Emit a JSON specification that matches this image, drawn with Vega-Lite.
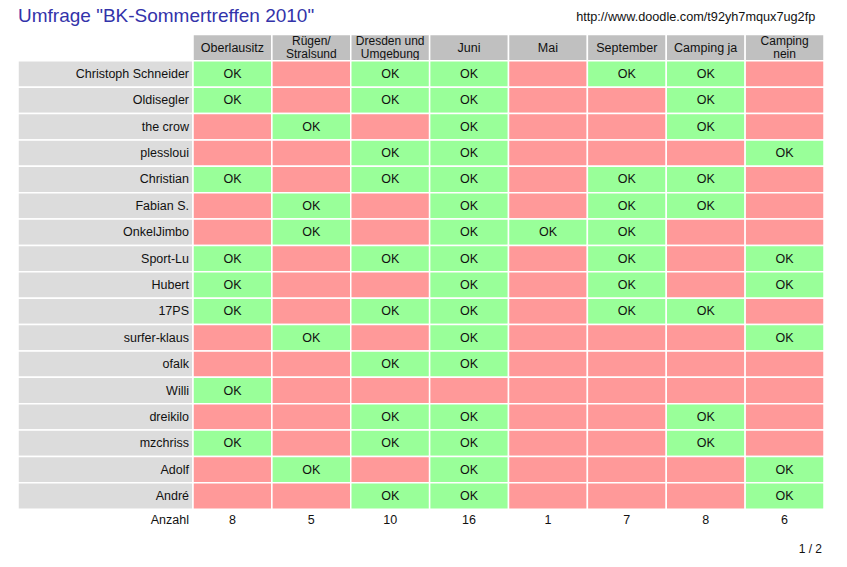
{
  "$schema": "https://vega.github.io/schema/vega-lite/v6.json",
  "padding": {"left": 17, "top": 7, "right": 0, "bottom": 0},
  "background": "white",
  "bounds": "flush",
  "spacing": 0,
  "config": {
    "view": {"stroke": null},
    "text": {"font": "Liberation Sans", "fontSize": 12.5, "color": "#111111"}
  },
  "datasets": {
    "names": [
      {"name": "Christoph Schneider"}, {"name": "Oldisegler"}, {"name": "the crow"}, {"name": "plessloui"},
      {"name": "Christian"}, {"name": "Fabian S."}, {"name": "OnkelJimbo"}, {"name": "Sport-Lu"},
      {"name": "Hubert"}, {"name": "17PS"}, {"name": "surfer-klaus"}, {"name": "ofalk"},
      {"name": "Willi"}, {"name": "dreikilo"}, {"name": "mzchriss"}, {"name": "Adolf"}, {"name": "André"}
    ],
    "options": [
      {"option": "Oberlausitz", "label": ["Oberlausitz"], "count": 8},
      {"option": "Rügen/Stralsund", "label": ["Rügen/", "Stralsund"], "count": 5},
      {"option": "Dresden und Umgebung", "label": ["Dresden und", "Umgebung"], "count": 10},
      {"option": "Juni", "label": ["Juni"], "count": 16},
      {"option": "Mai", "label": ["Mai"], "count": 1},
      {"option": "September", "label": ["September"], "count": 7},
      {"option": "Camping ja", "label": ["Camping ja"], "count": 8},
      {"option": "Camping nein", "label": ["Camping", "nein"], "count": 6}
    ],
    "votes": [
      {"name": "Christoph Schneider", "option": "Oberlausitz", "vote": "OK"},
      {"name": "Christoph Schneider", "option": "Rügen/Stralsund", "vote": ""},
      {"name": "Christoph Schneider", "option": "Dresden und Umgebung", "vote": "OK"},
      {"name": "Christoph Schneider", "option": "Juni", "vote": "OK"},
      {"name": "Christoph Schneider", "option": "Mai", "vote": ""},
      {"name": "Christoph Schneider", "option": "September", "vote": "OK"},
      {"name": "Christoph Schneider", "option": "Camping ja", "vote": "OK"},
      {"name": "Christoph Schneider", "option": "Camping nein", "vote": ""},
      {"name": "Oldisegler", "option": "Oberlausitz", "vote": "OK"},
      {"name": "Oldisegler", "option": "Rügen/Stralsund", "vote": ""},
      {"name": "Oldisegler", "option": "Dresden und Umgebung", "vote": "OK"},
      {"name": "Oldisegler", "option": "Juni", "vote": "OK"},
      {"name": "Oldisegler", "option": "Mai", "vote": ""},
      {"name": "Oldisegler", "option": "September", "vote": ""},
      {"name": "Oldisegler", "option": "Camping ja", "vote": "OK"},
      {"name": "Oldisegler", "option": "Camping nein", "vote": ""},
      {"name": "the crow", "option": "Oberlausitz", "vote": ""},
      {"name": "the crow", "option": "Rügen/Stralsund", "vote": "OK"},
      {"name": "the crow", "option": "Dresden und Umgebung", "vote": ""},
      {"name": "the crow", "option": "Juni", "vote": "OK"},
      {"name": "the crow", "option": "Mai", "vote": ""},
      {"name": "the crow", "option": "September", "vote": ""},
      {"name": "the crow", "option": "Camping ja", "vote": "OK"},
      {"name": "the crow", "option": "Camping nein", "vote": ""},
      {"name": "plessloui", "option": "Oberlausitz", "vote": ""},
      {"name": "plessloui", "option": "Rügen/Stralsund", "vote": ""},
      {"name": "plessloui", "option": "Dresden und Umgebung", "vote": "OK"},
      {"name": "plessloui", "option": "Juni", "vote": "OK"},
      {"name": "plessloui", "option": "Mai", "vote": ""},
      {"name": "plessloui", "option": "September", "vote": ""},
      {"name": "plessloui", "option": "Camping ja", "vote": ""},
      {"name": "plessloui", "option": "Camping nein", "vote": "OK"},
      {"name": "Christian", "option": "Oberlausitz", "vote": "OK"},
      {"name": "Christian", "option": "Rügen/Stralsund", "vote": ""},
      {"name": "Christian", "option": "Dresden und Umgebung", "vote": "OK"},
      {"name": "Christian", "option": "Juni", "vote": "OK"},
      {"name": "Christian", "option": "Mai", "vote": ""},
      {"name": "Christian", "option": "September", "vote": "OK"},
      {"name": "Christian", "option": "Camping ja", "vote": "OK"},
      {"name": "Christian", "option": "Camping nein", "vote": ""},
      {"name": "Fabian S.", "option": "Oberlausitz", "vote": ""},
      {"name": "Fabian S.", "option": "Rügen/Stralsund", "vote": "OK"},
      {"name": "Fabian S.", "option": "Dresden und Umgebung", "vote": ""},
      {"name": "Fabian S.", "option": "Juni", "vote": "OK"},
      {"name": "Fabian S.", "option": "Mai", "vote": ""},
      {"name": "Fabian S.", "option": "September", "vote": "OK"},
      {"name": "Fabian S.", "option": "Camping ja", "vote": "OK"},
      {"name": "Fabian S.", "option": "Camping nein", "vote": ""},
      {"name": "OnkelJimbo", "option": "Oberlausitz", "vote": ""},
      {"name": "OnkelJimbo", "option": "Rügen/Stralsund", "vote": "OK"},
      {"name": "OnkelJimbo", "option": "Dresden und Umgebung", "vote": ""},
      {"name": "OnkelJimbo", "option": "Juni", "vote": "OK"},
      {"name": "OnkelJimbo", "option": "Mai", "vote": "OK"},
      {"name": "OnkelJimbo", "option": "September", "vote": "OK"},
      {"name": "OnkelJimbo", "option": "Camping ja", "vote": ""},
      {"name": "OnkelJimbo", "option": "Camping nein", "vote": ""},
      {"name": "Sport-Lu", "option": "Oberlausitz", "vote": "OK"},
      {"name": "Sport-Lu", "option": "Rügen/Stralsund", "vote": ""},
      {"name": "Sport-Lu", "option": "Dresden und Umgebung", "vote": "OK"},
      {"name": "Sport-Lu", "option": "Juni", "vote": "OK"},
      {"name": "Sport-Lu", "option": "Mai", "vote": ""},
      {"name": "Sport-Lu", "option": "September", "vote": "OK"},
      {"name": "Sport-Lu", "option": "Camping ja", "vote": ""},
      {"name": "Sport-Lu", "option": "Camping nein", "vote": "OK"},
      {"name": "Hubert", "option": "Oberlausitz", "vote": "OK"},
      {"name": "Hubert", "option": "Rügen/Stralsund", "vote": ""},
      {"name": "Hubert", "option": "Dresden und Umgebung", "vote": ""},
      {"name": "Hubert", "option": "Juni", "vote": "OK"},
      {"name": "Hubert", "option": "Mai", "vote": ""},
      {"name": "Hubert", "option": "September", "vote": "OK"},
      {"name": "Hubert", "option": "Camping ja", "vote": ""},
      {"name": "Hubert", "option": "Camping nein", "vote": "OK"},
      {"name": "17PS", "option": "Oberlausitz", "vote": "OK"},
      {"name": "17PS", "option": "Rügen/Stralsund", "vote": ""},
      {"name": "17PS", "option": "Dresden und Umgebung", "vote": "OK"},
      {"name": "17PS", "option": "Juni", "vote": "OK"},
      {"name": "17PS", "option": "Mai", "vote": ""},
      {"name": "17PS", "option": "September", "vote": "OK"},
      {"name": "17PS", "option": "Camping ja", "vote": "OK"},
      {"name": "17PS", "option": "Camping nein", "vote": ""},
      {"name": "surfer-klaus", "option": "Oberlausitz", "vote": ""},
      {"name": "surfer-klaus", "option": "Rügen/Stralsund", "vote": "OK"},
      {"name": "surfer-klaus", "option": "Dresden und Umgebung", "vote": ""},
      {"name": "surfer-klaus", "option": "Juni", "vote": "OK"},
      {"name": "surfer-klaus", "option": "Mai", "vote": ""},
      {"name": "surfer-klaus", "option": "September", "vote": ""},
      {"name": "surfer-klaus", "option": "Camping ja", "vote": ""},
      {"name": "surfer-klaus", "option": "Camping nein", "vote": "OK"},
      {"name": "ofalk", "option": "Oberlausitz", "vote": ""},
      {"name": "ofalk", "option": "Rügen/Stralsund", "vote": ""},
      {"name": "ofalk", "option": "Dresden und Umgebung", "vote": "OK"},
      {"name": "ofalk", "option": "Juni", "vote": "OK"},
      {"name": "ofalk", "option": "Mai", "vote": ""},
      {"name": "ofalk", "option": "September", "vote": ""},
      {"name": "ofalk", "option": "Camping ja", "vote": ""},
      {"name": "ofalk", "option": "Camping nein", "vote": ""},
      {"name": "Willi", "option": "Oberlausitz", "vote": "OK"},
      {"name": "Willi", "option": "Rügen/Stralsund", "vote": ""},
      {"name": "Willi", "option": "Dresden und Umgebung", "vote": ""},
      {"name": "Willi", "option": "Juni", "vote": ""},
      {"name": "Willi", "option": "Mai", "vote": ""},
      {"name": "Willi", "option": "September", "vote": ""},
      {"name": "Willi", "option": "Camping ja", "vote": ""},
      {"name": "Willi", "option": "Camping nein", "vote": ""},
      {"name": "dreikilo", "option": "Oberlausitz", "vote": ""},
      {"name": "dreikilo", "option": "Rügen/Stralsund", "vote": ""},
      {"name": "dreikilo", "option": "Dresden und Umgebung", "vote": "OK"},
      {"name": "dreikilo", "option": "Juni", "vote": "OK"},
      {"name": "dreikilo", "option": "Mai", "vote": ""},
      {"name": "dreikilo", "option": "September", "vote": ""},
      {"name": "dreikilo", "option": "Camping ja", "vote": "OK"},
      {"name": "dreikilo", "option": "Camping nein", "vote": ""},
      {"name": "mzchriss", "option": "Oberlausitz", "vote": "OK"},
      {"name": "mzchriss", "option": "Rügen/Stralsund", "vote": ""},
      {"name": "mzchriss", "option": "Dresden und Umgebung", "vote": "OK"},
      {"name": "mzchriss", "option": "Juni", "vote": "OK"},
      {"name": "mzchriss", "option": "Mai", "vote": ""},
      {"name": "mzchriss", "option": "September", "vote": ""},
      {"name": "mzchriss", "option": "Camping ja", "vote": "OK"},
      {"name": "mzchriss", "option": "Camping nein", "vote": ""},
      {"name": "Adolf", "option": "Oberlausitz", "vote": ""},
      {"name": "Adolf", "option": "Rügen/Stralsund", "vote": "OK"},
      {"name": "Adolf", "option": "Dresden und Umgebung", "vote": ""},
      {"name": "Adolf", "option": "Juni", "vote": "OK"},
      {"name": "Adolf", "option": "Mai", "vote": ""},
      {"name": "Adolf", "option": "September", "vote": ""},
      {"name": "Adolf", "option": "Camping ja", "vote": ""},
      {"name": "Adolf", "option": "Camping nein", "vote": "OK"},
      {"name": "André", "option": "Oberlausitz", "vote": ""},
      {"name": "André", "option": "Rügen/Stralsund", "vote": ""},
      {"name": "André", "option": "Dresden und Umgebung", "vote": "OK"},
      {"name": "André", "option": "Juni", "vote": "OK"},
      {"name": "André", "option": "Mai", "vote": ""},
      {"name": "André", "option": "September", "vote": ""},
      {"name": "André", "option": "Camping ja", "vote": ""},
      {"name": "André", "option": "Camping nein", "vote": "OK"}
    ]
  },
  "hconcat": [
    {
      "width": 175,
      "height": 554,
      "layer": [
        {
          "data": {"name": "names"},
          "mark": {"type": "rect", "fill": "#dcdcdc", "stroke": "white", "strokeWidth": 1.5},
          "encoding": {
            "x": {"datum": "Name", "type": "nominal", "axis": null, "scale": {"domain": ["Name"], "paddingInner": 0, "paddingOuter": 0}},
            "y": {"field": "name", "type": "nominal", "axis": null, "scale": {"domain": ["_top", "_header", "Christoph Schneider", "Oldisegler", "the crow", "plessloui", "Christian", "Fabian S.", "OnkelJimbo", "Sport-Lu", "Hubert", "17PS", "surfer-klaus", "ofalk", "Willi", "dreikilo", "mzchriss", "Adolf", "André", "Anzahl", "_page"], "paddingInner": 0, "paddingOuter": 0}}
          }
        },
        {
          "data": {"name": "names"},
          "mark": {"type": "text", "align": "right", "baseline": "middle", "dx": -4},
          "encoding": {
            "x": {"datum": "Name", "type": "nominal", "bandPosition": 1},
            "y": {"field": "name", "type": "nominal"},
            "text": {"field": "name"}
          }
        },
        {
          "data": {"values": [{"label": "Anzahl"}]},
          "mark": {"type": "text", "align": "right", "baseline": "middle", "dx": -4, "dy": -2},
          "encoding": {
            "x": {"datum": "Name", "type": "nominal", "bandPosition": 1},
            "y": {"datum": "Anzahl", "type": "nominal"},
            "text": {"field": "label"}
          }
        },
        {
          "data": {"values": [{"label": "Umfrage \"BK-Sommertreffen 2010\""}]},
          "mark": {"type": "text", "align": "left", "baseline": "middle", "dy": -5, "fontSize": 19, "color": "#3333aa"},
          "encoding": {
            "x": {"datum": "Name", "type": "nominal", "bandPosition": 0},
            "y": {"datum": "_top", "type": "nominal"},
            "text": {"field": "label"}
          }
        }
      ]
    },
    {
      "width": 631,
      "height": 554,
      "encoding": {
        "x": {"field": "option", "type": "nominal", "axis": null, "scale": {"domain": ["Oberlausitz", "Rügen/Stralsund", "Dresden und Umgebung", "Juni", "Mai", "September", "Camping ja", "Camping nein"], "paddingInner": 0, "paddingOuter": 0}}
      },
      "layer": [
        {
          "data": {"name": "options"},
          "mark": {"type": "rect", "fill": "#c0c0c0", "stroke": "white", "strokeWidth": 1.5},
          "encoding": {
            "y": {"datum": "_header", "type": "nominal", "axis": null, "scale": {"domain": ["_top", "_header", "Christoph Schneider", "Oldisegler", "the crow", "plessloui", "Christian", "Fabian S.", "OnkelJimbo", "Sport-Lu", "Hubert", "17PS", "surfer-klaus", "ofalk", "Willi", "dreikilo", "mzchriss", "Adolf", "André", "Anzahl", "_page"], "paddingInner": 0, "paddingOuter": 0}}
          }
        },
        {
          "data": {"name": "options"},
          "transform": [{"filter": "length(datum.label) === 1"}],
          "mark": {"type": "text", "align": "center", "baseline": "middle"},
          "encoding": {
            "y": {"datum": "_header", "type": "nominal"},
            "text": {"field": "label"}
          }
        },
        {
          "data": {"name": "options"},
          "transform": [{"filter": "length(datum.label) === 2"}],
          "mark": {"type": "text", "align": "center", "baseline": "middle", "lineHeight": 12.5, "fontSize": 12, "dy": -6.5},
          "encoding": {
            "y": {"datum": "_header", "type": "nominal"},
            "text": {"field": "label"}
          }
        },
        {
          "data": {"name": "votes"},
          "mark": {"type": "rect", "stroke": "white", "strokeWidth": 1.5},
          "encoding": {
            "y": {"field": "name", "type": "nominal"},
            "fill": {"field": "vote", "type": "nominal", "legend": null, "scale": {"domain": ["OK", ""], "range": ["#99ff99", "#ff9999"]}}
          }
        },
        {
          "data": {"name": "votes"},
          "transform": [{"filter": "datum.vote === 'OK'"}],
          "mark": {"type": "text", "align": "center", "baseline": "middle"},
          "encoding": {
            "y": {"field": "name", "type": "nominal"},
            "text": {"field": "vote"}
          }
        },
        {
          "data": {"name": "options"},
          "mark": {"type": "text", "align": "center", "baseline": "middle", "dy": -2},
          "encoding": {
            "y": {"datum": "Anzahl", "type": "nominal"},
            "text": {"field": "count"}
          }
        },
        {
          "data": {"values": [{"option": "Camping ja", "label": "http://www.doodle.com/t92yh7mqux7ug2fp"}]},
          "mark": {"type": "text", "align": "center", "baseline": "middle", "dx": -10, "dy": -4, "fontSize": 12.7},
          "encoding": {
            "y": {"datum": "_top", "type": "nominal"},
            "text": {"field": "label"}
          }
        },
        {
          "data": {"values": [{"option": "Camping nein", "label": "1 / 2"}]},
          "mark": {"type": "text", "align": "right", "baseline": "middle", "dx": -2, "fontSize": 12},
          "encoding": {
            "x": {"field": "option", "type": "nominal", "bandPosition": 1},
            "y": {"datum": "_page", "type": "nominal"},
            "text": {"field": "label"}
          }
        }
      ]
    }
  ]
}
